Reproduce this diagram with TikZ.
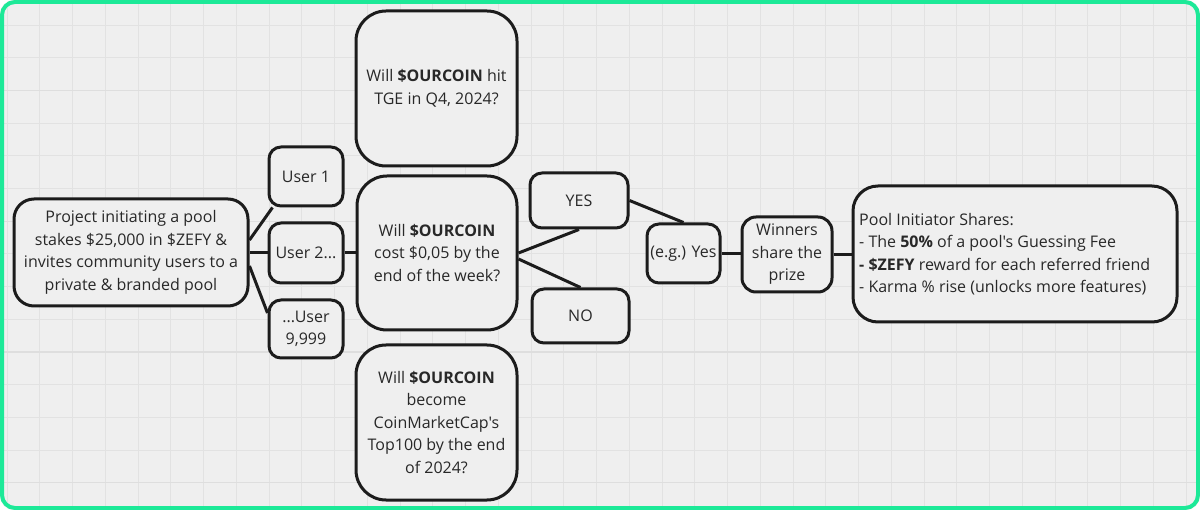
\documentclass[tikz,border=0pt]{standalone}
\usepackage{fontspec}
\setmainfont{Open Sans}[Ligatures=TeXOff]
\usetikzlibrary{calc}
\definecolor{bgc}{RGB}{239,239,239}
\definecolor{gridc}{RGB}{226,226,226}
\definecolor{gridm}{RGB}{222,222,222}
\definecolor{frame}{RGB}{29,233,152}
\definecolor{ink}{RGB}{28,28,28}
\definecolor{txt}{RGB}{40,40,40}
\tikzset{
  box/.style={draw=ink, line width=3pt, fill=bgc, inner sep=0pt, align=center,
    text=txt, font=\fontsize{16}{22.5}\selectfont},
  link/.style={draw=ink, line width=3pt}
}
\begin{document}
\begin{tikzpicture}[x=1pt,y=-1pt]
\useasboundingbox (0,0) rectangle (1200,510);
\fill[white] (0,0) rectangle (1200,510);
\fill[bgc, rounded corners=14pt] (0,0) rectangle (1200,510);
\begin{scope}
\clip[rounded corners=14pt] (0,0) rectangle (1200,510);
\foreach \i in {0,...,36} {
  \draw[gridc, line width=0.9pt] ({7+32.75*\i},0) -- ({7+32.75*\i},510);
}
\foreach \j in {0,...,15} {
  \draw[gridc, line width=0.9pt] (0,{25+32.7*(\j-0)}) -- (1200,{25+32.7*(\j-0)});
}
\foreach \j in {0,...,3} {
  \draw[gridm, line width=1.1pt] (0,{90.4+130.8*\j}) -- (1200,{90.4+130.8*\j});
}
\end{scope}
\draw[frame, line width=4pt, rounded corners=13pt] (2,2) rectangle (1198,508);

\node[box, minimum width=234pt, minimum height=107pt, rounded corners=20pt] (proj) at (131,252.5)
  {Project initiating a pool\\stakes \$25,000 in \$ZEFY \&\\invites community users to a\\private \& branded pool};
\node[box, minimum width=74pt, minimum height=59pt, rounded corners=12pt] (u1) at (306,176.5) {User 1};
\node[box, minimum width=74pt, minimum height=60pt, rounded corners=12pt] (u2) at (306,253) {User 2...};
\node[box, minimum width=74pt, minimum height=58pt, rounded corners=12pt] (u3) at (306,329) {...User\\9,999};
\node[box, minimum width=161pt, minimum height=155pt, rounded corners=30pt] (q1) at (436.5,88.5)
  {Will \textbf{\$OURCOIN} hit\\TGE in Q4, 2024?};
\node[box, minimum width=160pt, minimum height=154pt, rounded corners=30pt] (q2) at (437,253)
  {Will \textbf{\$OURCOIN}\\cost \$0,05 by the\\end of the week?};
\node[box, minimum width=161pt, minimum height=155pt, rounded corners=30pt] (q3) at (436.5,422.5)
  {Will \textbf{\$OURCOIN}\\become\\CoinMarketCap's\\Top100 by the end\\of 2024?};
\node[box, minimum width=98pt, minimum height=55pt, rounded corners=12pt] (yes) at (579,200.5) {YES};
\node[box, minimum width=97pt, minimum height=54pt, rounded corners=12pt] (no) at (580.5,316) {NO};
\node[box, minimum width=73pt, minimum height=59pt, rounded corners=12pt] (eg) at (683.5,253.5) {(e.g.) Yes};
\node[box, minimum width=90pt, minimum height=75pt, rounded corners=14pt] (win) at (787,254.5) {Winners\\share the\\prize};
\node[box, minimum width=324pt, minimum height=136pt, rounded corners=25pt] (pool) at (1015,254) {};
\node[anchor=west, inner sep=0pt, align=left, text=txt, font=\fontsize{16}{22.5}\selectfont] (pooltxt) at (859,254)
  {Pool Initiator Shares:\\- The \textbf{50\%} of a pool's Guessing Fee\\\textbf{- \$ZEFY} reward for each referred friend\\- Karma \% rise (unlocks more features)};

\draw[link] ($(proj.east)+(0,-12.5)$) -- ($(u1.south west)+(5,0)$);
\draw[link] ($(proj.east)+(0,0.5)$) -- (u2.west);
\draw[link] ($(proj.east)+(0,13.5)$) -- ($(u3.west)+(0,-16)$);
\draw[link] (u2.east) -- (u2.east -| q2.west);
\draw[link] (q2.east) -- (yes.south);
\draw[link] ($(q2.east)+(0,6)$) -- (no.north);
\draw[link] (yes.east) -- (eg.north);
\draw[link] (eg.east) -- (eg.east -| win.west);
\draw[link] (win.east) -- (win.east -| pool.west);
\end{tikzpicture}
\end{document}
